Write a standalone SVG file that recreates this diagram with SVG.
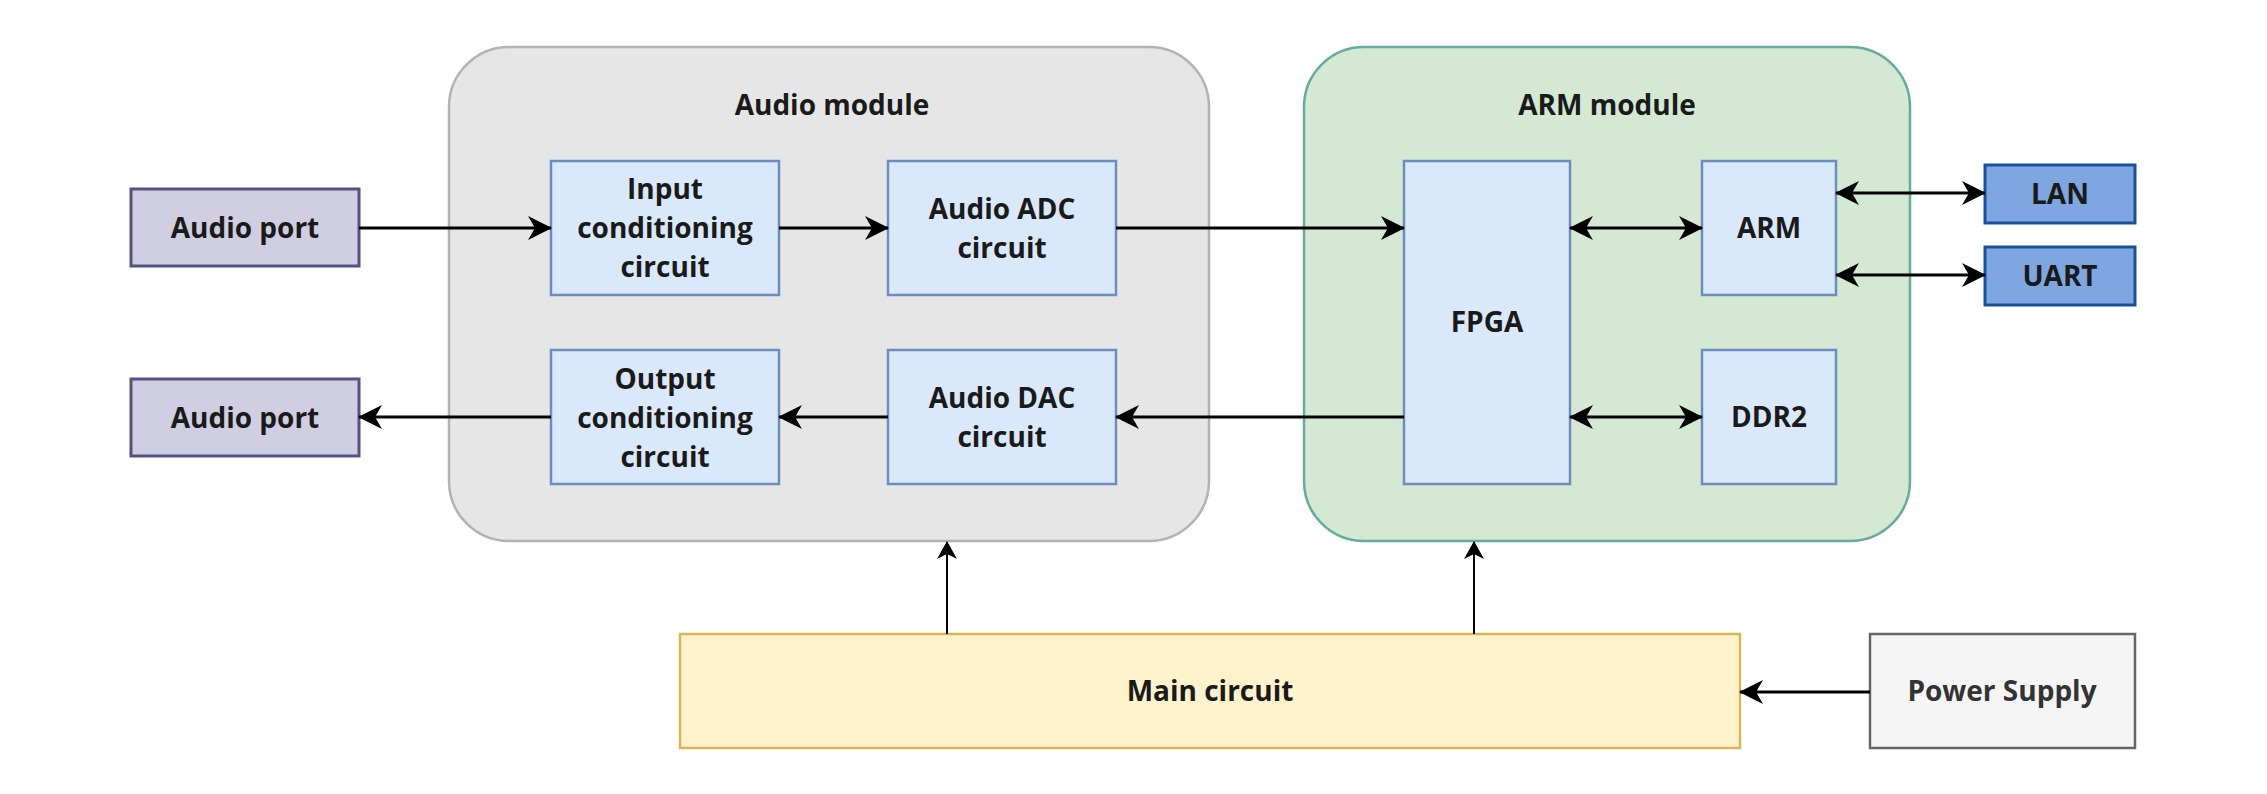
<svg xmlns="http://www.w3.org/2000/svg" width="2267" height="794" viewBox="0 0 2267 794">
<style>
text{font-family:"Open Sans","Liberation Sans",sans-serif;font-weight:700;font-size:28px;fill:#1a1a1a;text-anchor:middle}
.blue{fill:#dae8fc;stroke:#6c8ebf;stroke-width:2.5}
.port{fill:#d0cee2;stroke:#56517e;stroke-width:3}
.ext{fill:#7ea6e0;stroke:#1a4f9c;stroke-width:3}
.c{fill:none;stroke:#000;stroke-width:3}
.t{fill:none;stroke:#000;stroke-width:2}
</style>
<defs>
<marker id="a" viewBox="0 0 24 24" markerWidth="24" markerHeight="24" refX="23" refY="12" orient="auto-start-reverse" markerUnits="userSpaceOnUse"><path d="M0,0 L24,12 L0,24 L7,12 z" fill="#000"/></marker>
<marker id="s" viewBox="0 0 20 20" markerWidth="20" markerHeight="20" refX="19" refY="10" orient="auto" markerUnits="userSpaceOnUse"><path d="M2,0 L20,10 L2,20 L7,10 z" fill="#000"/></marker>
</defs>
<rect width="2267" height="794" fill="#fff"/>
<g id="audio-module"><rect x="449" y="47" width="760" height="494" rx="60" fill="#e6e6e6" stroke="#b3b3b3" stroke-width="2.5"/><text x="832" y="115">Audio module</text></g>
<g id="arm-module"><rect x="1304" y="47" width="606" height="494" rx="60" fill="#d5e8d4" stroke="#67ab9f" stroke-width="2.5"/><text x="1607" y="115">ARM module</text></g>
<g id="audio-port-in"><rect class="port" x="131" y="189" width="228" height="77"/><text x="245" y="238">Audio port</text></g>
<g id="audio-port-out"><rect class="port" x="131" y="379" width="228" height="77"/><text x="245" y="428">Audio port</text></g>
<g id="input-cond"><rect class="blue" x="551" y="161" width="228" height="134"/><text x="665" y="199">Input</text><text x="665" y="238">conditioning</text><text x="665" y="277">circuit</text></g>
<g id="adc"><rect class="blue" x="888" y="161" width="228" height="134"/><text x="1002" y="219">Audio ADC</text><text x="1002" y="258">circuit</text></g>
<g id="output-cond"><rect class="blue" x="551" y="350" width="228" height="134"/><text x="665" y="389">Output</text><text x="665" y="428">conditioning</text><text x="665" y="467">circuit</text></g>
<g id="dac"><rect class="blue" x="888" y="350" width="228" height="134"/><text x="1002" y="408">Audio DAC</text><text x="1002" y="447">circuit</text></g>
<g id="fpga"><rect class="blue" x="1404" y="161" width="166" height="323"/><text x="1487" y="332">FPGA</text></g>
<g id="arm"><rect class="blue" x="1702" y="161" width="134" height="134"/><text x="1769" y="238">ARM</text></g>
<g id="ddr2"><rect class="blue" x="1702" y="350" width="134" height="134"/><text x="1769" y="427">DDR2</text></g>
<g id="lan"><rect class="ext" x="1985" y="165" width="150" height="58"/><text x="2060" y="204">LAN</text></g>
<g id="uart"><rect class="ext" x="1985" y="247" width="150" height="58"/><text x="2060" y="286">UART</text></g>
<g id="main"><rect x="680" y="634" width="1060" height="114" fill="#fff2cc" stroke="#d6b656" stroke-width="2.5"/><text x="1210" y="701">Main circuit</text></g>
<g id="power"><rect x="1870" y="634" width="265" height="114" fill="#f5f5f5" stroke="#666666" stroke-width="2.5"/><text x="2002" y="701" style="fill:#333">Power Supply</text></g>
<g id="connectors">
<path class="c" d="M359,228 H551" marker-end="url(#a)"/>
<path class="c" d="M779,228 H888" marker-end="url(#a)"/>
<path class="c" d="M1116,228 H1404" marker-end="url(#a)"/>
<path class="c" d="M1404,417 H1116" marker-end="url(#a)"/>
<path class="c" d="M888,417 H779" marker-end="url(#a)"/>
<path class="c" d="M551,417 H359" marker-end="url(#a)"/>
<path class="c" d="M1570,228 H1702" marker-start="url(#a)" marker-end="url(#a)"/>
<path class="c" d="M1570,417 H1702" marker-start="url(#a)" marker-end="url(#a)"/>
<path class="c" d="M1836,193 H1985" marker-start="url(#a)" marker-end="url(#a)"/>
<path class="c" d="M1836,275 H1985" marker-start="url(#a)" marker-end="url(#a)"/>
<path class="t" d="M947,634 V542" marker-end="url(#s)"/>
<path class="t" d="M1474,634 V542" marker-end="url(#s)"/>
<path class="c" d="M1870,692 H1740" marker-end="url(#a)"/>
</g>
</svg>
